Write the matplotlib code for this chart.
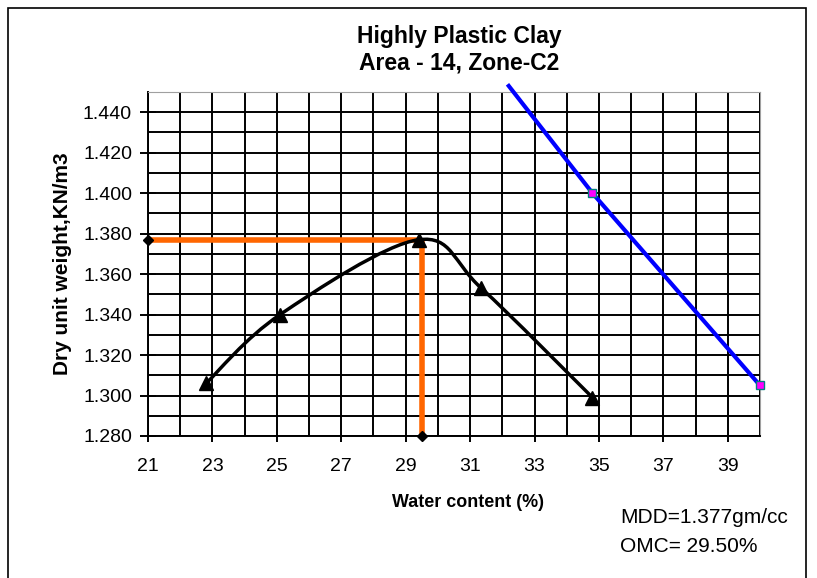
import matplotlib.pyplot as plt
from matplotlib.path import Path
from matplotlib.patches import PathPatch, Rectangle
import numpy as np

plt.rcParams['font.family'] = ['Liberation Sans', 'DejaVu Sans']

# compaction test results
water = [22.8, 25.1, 29.4, 31.35, 34.8]
dry_unit = [1.306, 1.340, 1.377, 1.353, 1.299]

# zero air voids line
zav_water = [32.2, 34.8, 40.0]
zav_dry = [1.453, 1.400, 1.305]

mdd = 1.377
omc = 29.5


def smooth_path(xs, ys):
    # bezier path through the points, like a spreadsheet "smoothed line"
    pts = np.column_stack([xs, ys])
    verts = [pts[0]]
    codes = [Path.MOVETO]
    n = len(pts)
    for i in range(n - 1):
        p0 = pts[i - 1] if i > 0 else pts[i]
        p1 = pts[i]
        p2 = pts[i + 1]
        p3 = pts[i + 2] if i + 2 < n else pts[i + 1]
        c1 = p1 + (p2 - p0) / 6.0
        c2 = p2 - (p3 - p1) / 6.0
        verts += [c1, c2, p2]
        codes += [Path.CURVE4] * 3
    return Path(verts, codes)


fig = plt.figure(figsize=(8.17, 5.78), dpi=100)
ax = fig.add_axes([0.1812, 0.2457, 0.9302 - 0.1812, 0.8408 - 0.2457])

# outer chart border
fig.patches.append(Rectangle((0.010, -0.02), 0.976, 1.006, transform=fig.transFigure,
                             fill=False, edgecolor='black', linewidth=1.2))

ax.set_xlim(21, 40)
ax.set_ylim(1.280, 1.450)

ax.set_xticks(np.arange(21, 41, 1), minor=True)
ax.set_xticks(np.arange(21, 40, 2))
ax.set_yticks(np.arange(1.280, 1.4501, 0.01), minor=True)
ax.set_yticks(np.arange(1.280, 1.4401, 0.02))
ax.set_yticklabels(['%.3f' % v for v in np.arange(1.280, 1.4401, 0.02)])
ax.grid(True, which='both', color='black', linewidth=1.4)
ax.set_axisbelow(True)
ax.tick_params(axis='both', which='minor', length=0)
ax.tick_params(axis='y', which='major', direction='inout', length=11, width=1.4,
               labelsize=14, pad=6)
ax.tick_params(axis='x', which='major', direction='out', length=4, width=1.4,
               labelsize=14, pad=12)

for s in ['top', 'right']:
    ax.spines[s].set_color('#a0a0a0')
for s in ['left', 'bottom']:
    ax.spines[s].set_color('black')
    ax.spines[s].set_linewidth(1.4)

# orange MDD / OMC guide lines
ax.plot([21, omc], [mdd, mdd], color='#ff6600', linewidth=4, solid_capstyle='butt', zorder=3)
ax.plot([omc, omc], [mdd, 1.280], color='#ff6600', linewidth=4, solid_capstyle='butt', zorder=3)
ax.plot([21, omc], [mdd, 1.280], linestyle='none', marker='D', color='black',
        markersize=5, clip_on=False, zorder=5)

# compaction curve
ax.add_patch(PathPatch(smooth_path(water, dry_unit), fill=False, edgecolor='black',
                       linewidth=2.5, zorder=4))
ax.plot(water, dry_unit, linestyle='none', marker='^', color='black', markersize=10, zorder=5)

# zero air voids line
ax.plot(zav_water, zav_dry, color='#0000ff', linewidth=3, clip_on=False, zorder=4)
ax.plot(zav_water[1:], zav_dry[1:], linestyle='none', marker='s', markerfacecolor='#ff00ff',
        markeredgecolor='#008080', markersize=6, clip_on=False, zorder=5)

fig.text(0.5618, 0.936, 'Highly Plastic Clay', ha='center', va='center', fontsize=16.5, fontweight='bold')
fig.text(0.5618, 0.891, 'Area - 14, Zone-C2', ha='center', va='center', fontsize=16.5, fontweight='bold')
fig.text(0.5728, 0.1298, 'Water content (%)', ha='center', va='center', fontsize=12.9, fontweight='bold')
ax.set_ylabel('Dry unit weight,KN/m3', fontsize=15, fontweight='bold', labelpad=8)

fig.text(0.759, 0.104, 'MDD=1.377gm/cc', ha='left', va='center', fontsize=15)
fig.text(0.759, 0.055, 'OMC= 29.50%', ha='left', va='center', fontsize=15)

fig.savefig('out.png', dpi=100)
